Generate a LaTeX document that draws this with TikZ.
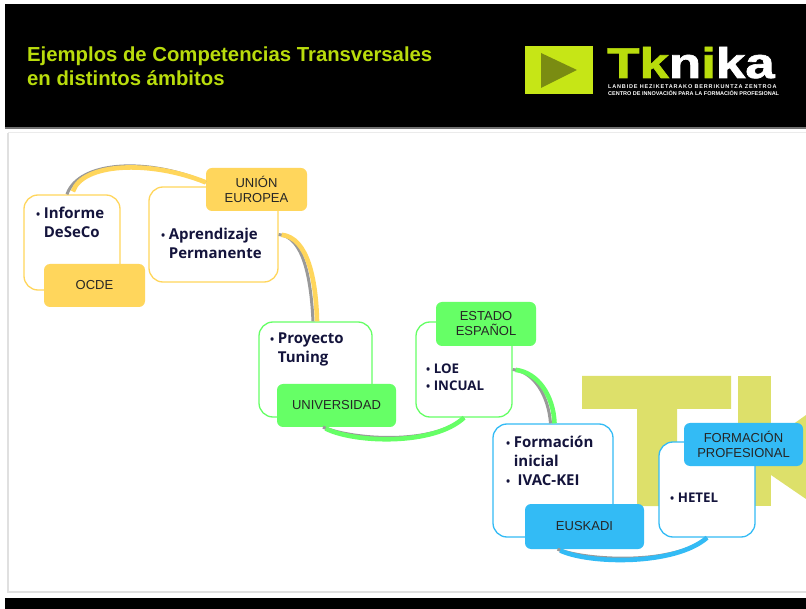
\documentclass[tikz,border=0pt]{standalone}
\usepackage{fontspec}
\setmainfont{Liberation Sans}
\newfontfamily\itemfont{Open Sans}
\definecolor{tkyellow}{HTML}{FFD65C}
\definecolor{tkgreen}{HTML}{66FF66}
\definecolor{tkblue}{HTML}{33BBF5}
\definecolor{tklime}{HTML}{C6E616}
\definecolor{tktitle}{HTML}{B9DC0C}
\definecolor{tkolive}{HTML}{7A8C12}
\definecolor{tkmark}{HTML}{DDE06A}
\definecolor{tkink}{HTML}{14143C}
\tikzset{
  itembox/.style={draw=#1, line width=1.3pt, fill=white, rounded corners=14pt, inner sep=0pt},
  tagbox/.style={fill=#1, rounded corners=6pt, inner sep=0pt, align=center,
    font=\fontsize{13}{15}\selectfont, text=black!85},
  itemtext/.style={anchor=north west, inner sep=0pt, align=left, text=tkink,
    font=\itemfont\bfseries\fontsize{15}{18.7}\selectfont},
  smalltext/.style={anchor=north west, inner sep=0pt, align=left, text=tkink,
    font=\itemfont\bfseries\fontsize{13.3}{17}\selectfont},
  shadowlink/.style={draw=black!40, line width=3pt},
  colorlink/.style={draw=#1, line width=4.6pt, shorten <=3pt}
}
\newcommand{\Bul}{{\fontsize{11}{11}\selectfont\textbullet}\hspace{3.5pt}}
\begin{document}
\begin{tikzpicture}[x=1pt,y=-1pt]
  \useasboundingbox (0,0) rectangle (806,609);

  % Slide
  \fill[white] (0,0) rectangle (806,609);
  \fill[black] (5,4) rectangle (806,127);
  \fill[black!55] (5,127) rectangle (806,129);
  \fill[black] (5,598) rectangle (806,609);
  \draw[black!12, line width=2pt] (8,133) -- (8,592) -- (806,592);
  \draw[black!8, line width=1pt] (8,133) -- (806,133);

  % Title
  \node[anchor=north west, inner sep=0pt, align=left, text=tktitle,
    font=\bfseries\fontsize{20.3}{24.5}\selectfont] (title) at (27,46.5)
    {Ejemplos de Competencias Transversales\\en distintos ámbitos};

  % Logo
  \fill[tklime] (525,46) rectangle (593,94);
  \fill[tkolive] (541,53) -- (577,70) -- (541,88) -- cycle;
  \node[anchor=base west, inner sep=0pt, font=\bfseries\fontsize{43}{43}\selectfont] (logo) at (607,78)
    {\addfontfeature{FakeBold=1.5}\scalebox{1.23}[1]{\textcolor{tktitle}{Tk}\textcolor{white}{n}\textcolor{tktitle}{i}\textcolor{white}{ka}}};
  \node[anchor=base west, inner sep=0pt, text=white, font=\bfseries\fontsize{5.5}{7}\selectfont] (logosuba) at (608,88.5)
    {\addfontfeature{LetterSpace=15}LANBIDE HEZIKETARAKO BERRIKUNTZA ZENTROA};
  \node[anchor=base west, inner sep=0pt, text=white, font=\bfseries\fontsize{5.5}{7}\selectfont] (logosubb) at (608,95.5)
    {CENTRO DE INNOVACIÓN PARA LA FORMACIÓN PROFESIONAL};

  % Watermark
  \fill[tkmark] (582,376) -- (731,376) -- (731,409) -- (677,409) -- (677,506) -- (637,506) -- (637,409) -- (582,409) -- cycle;
  \fill[tkmark] (738,376) -- (771,376) -- (771,506) -- (738,506) -- cycle;
  \fill[tkmark] (771,440) -- (806,415) -- (806,499) -- (771,475) -- cycle;

  % Define nodes
  \node[itembox=tkyellow, minimum width=96pt, minimum height=95pt]  (informe) at (72,242.5) {};
  \node[tagbox=tkyellow, minimum width=101pt, minimum height=43pt]  (ocde) at (94.5,285.5) {OCDE};
  \node[itembox=tkyellow, minimum width=129pt, minimum height=95pt] (aprendizaje) at (213.5,234.5) {};
  \node[tagbox=tkyellow, minimum width=101pt, minimum height=43pt]  (union) at (256.5,189.5) {UNIÓN\\EUROPEA};
  \node[itembox=tkgreen, minimum width=113pt, minimum height=95pt]  (tuning) at (315.5,369.5) {};
  \node[tagbox=tkgreen, minimum width=119pt, minimum height=43pt]   (universidad) at (336.5,405.5) {UNIVERSIDAD};
  \node[itembox=tkgreen, minimum width=96pt, minimum height=95pt]   (loe) at (464,369.5) {};
  \node[tagbox=tkgreen, minimum width=100pt, minimum height=44pt]   (estado) at (486,324) {ESTADO\\ESPAÑOL};
  \node[itembox=tkblue, minimum width=120pt, minimum height=113pt]  (formacion) at (553,480.5) {};
  \node[tagbox=tkblue, minimum width=119pt, minimum height=45pt]    (euskadi) at (584.5,526.5) {EUSKADI};
  \node[itembox=tkblue, minimum width=96pt, minimum height=95pt]    (hetel) at (707,489.5) {};
  \node[tagbox=tkblue, minimum width=119pt, minimum height=43pt]    (profesional) at (743.5,444.5) {FORMACIÓN\\PROFESIONAL};

  % Box texts
  \node[itemtext] (informetext) at (36,207) {\Bul Informe\\\phantom{\Bul}DeSeCo};
  \node[itemtext] (aprendizajetext) at (161,228) {\Bul Aprendizaje\\\phantom{\Bul}Permanente};
  \node[itemtext] (tuningtext) at (270,333) {\Bul Proyecto\\\phantom{\Bul}Tuning};
  \node[smalltext] (loetext) at (426,364) {\Bul LOE\\\Bul INCUAL};
  \node[itemtext] (formaciontext) at (506,436) {\Bul Formación\\\phantom{\Bul}inicial\\\Bul\ IVAC-KEI};
  \node[smalltext] (heteltext) at (670,493) {\Bul HETEL};

  % Connect the nodes
  \draw[shadowlink] (informe.96) .. controls +(12,-34) and +(-57,-25) .. (union.172);
  \draw[colorlink=tkyellow] (informe.90) .. controls +(10,-31) and +(-57,-23) .. (union.172);
  \draw[shadowlink] (aprendizaje.east) .. controls +(25,2) and +(-2,-42) .. ([xshift=-2.5pt]tuning.north);
  \draw[colorlink=tkyellow] (aprendizaje.east) .. controls +(29,3) and +(-1,-42) .. ([xshift=1.5pt]tuning.north);
  \draw[shadowlink] (universidad.-122) .. controls +(32,13) and +(-30,27) .. (loe.south);
  \draw[colorlink=tkgreen] (universidad.-122) .. controls +(32,16) and +(-30,28) .. (loe.south);
  \draw[shadowlink] (loe.east) .. controls +(21,2) and +(-2,-28) .. ([xshift=-2.5pt]formacion.north);
  \draw[colorlink=tkgreen] (loe.east) .. controls +(25,3) and +(-1,-28) .. ([xshift=1.5pt]formacion.north);
  \draw[shadowlink] (euskadi.-140) .. controls +(32,12) and +(-32,27) .. (hetel.south);
  \draw[colorlink=tkblue] (euskadi.-140) .. controls +(32,15) and +(-32,28) .. (hetel.south);
\end{tikzpicture}
\end{document}
